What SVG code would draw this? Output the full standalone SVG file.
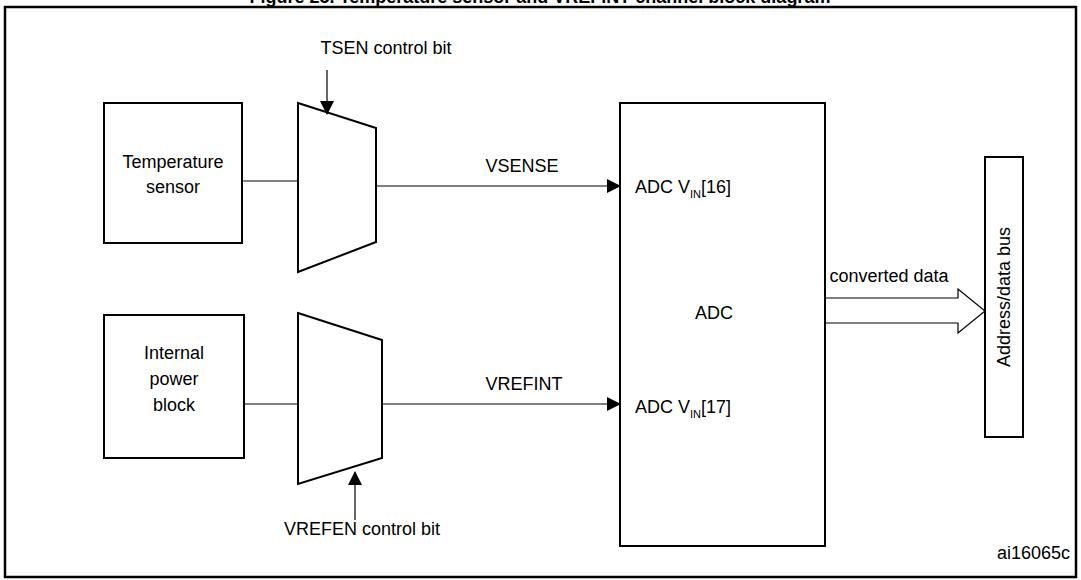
<svg xmlns="http://www.w3.org/2000/svg" width="1081" height="580" viewBox="0 0 1081 580">
<style>
text{font-family:"Liberation Sans",Arial,sans-serif;font-size:18px;fill:#000}
.b{fill:none;stroke:#000;stroke-width:2}
.l{fill:none;stroke:#000;stroke-width:1.2}
</style>
<defs><marker id="a" markerWidth="14" markerHeight="14" refX="13" refY="7" orient="auto" markerUnits="userSpaceOnUse"><path d="M0,0 L14,7 L0,14Z" fill="#000"/></marker></defs>
<rect width="1081" height="580" fill="#fff"/>
<text x="540" y="3" text-anchor="middle" style="font-weight:bold;font-size:18px">Figure 25. Temperature sensor and VREFINT channel block diagram</text>
<rect x="5" y="7" width="1071" height="570" fill="none" stroke="#000" stroke-width="2.5"/>
<g id="temp"><rect class="b" x="104" y="103" width="138" height="140"/><text x="173" y="168" text-anchor="middle">Temperature</text><text x="173" y="193" text-anchor="middle">sensor</text></g>
<g id="mux1"><path class="b" d="M298,103 L376,128 L376,242 L298,272Z"/></g>
<g id="power"><rect class="b" x="104" y="315" width="140" height="143"/><text x="174" y="359" text-anchor="middle">Internal</text><text x="174" y="385" text-anchor="middle">power</text><text x="174" y="411" text-anchor="middle">block</text></g>
<g id="mux2"><path class="b" d="M298,313 L382,340 L382,458 L298,484Z"/></g>
<g id="adc"><rect class="b" x="620" y="103" width="205" height="443"/><text x="635" y="193">ADC V<tspan font-size="11" dy="5">IN</tspan><tspan dy="-5">[16]</tspan></text><text x="695" y="319">ADC</text><text x="635" y="413">ADC V<tspan font-size="11" dy="5">IN</tspan><tspan dy="-5">[17]</tspan></text></g>
<g id="bus"><rect class="b" x="985" y="157" width="38" height="280"/><text transform="translate(1010,297) rotate(-90)" text-anchor="middle">Address/data bus</text></g>
<g id="labels"><text x="386" y="54" text-anchor="middle">TSEN control bit</text><text x="362" y="535" text-anchor="middle">VREFEN control bit</text><text x="522" y="172" text-anchor="middle">V<tspan>SENSE</tspan></text><text x="524" y="390" text-anchor="middle">VREFINT</text><text x="889" y="282" text-anchor="middle">converted data</text><text x="1070" y="559" text-anchor="end" font-size="12">ai16065c</text></g>
<g id="connectors">
<path class="l" d="M242,181 H298"/><path class="l" d="M376,186 H620" marker-end="url(#a)"/>
<path class="l" d="M244,404 H298"/><path class="l" d="M382,404 H620" marker-end="url(#a)"/>
<path class="l" d="M327,70 V114" marker-end="url(#a)"/>
<path class="l" d="M355,520 V472" marker-end="url(#a)"/>
<path class="l" d="M825,298 H958 V289 L985,311 L958,333 V323 H825"/>
</g>
</svg>
